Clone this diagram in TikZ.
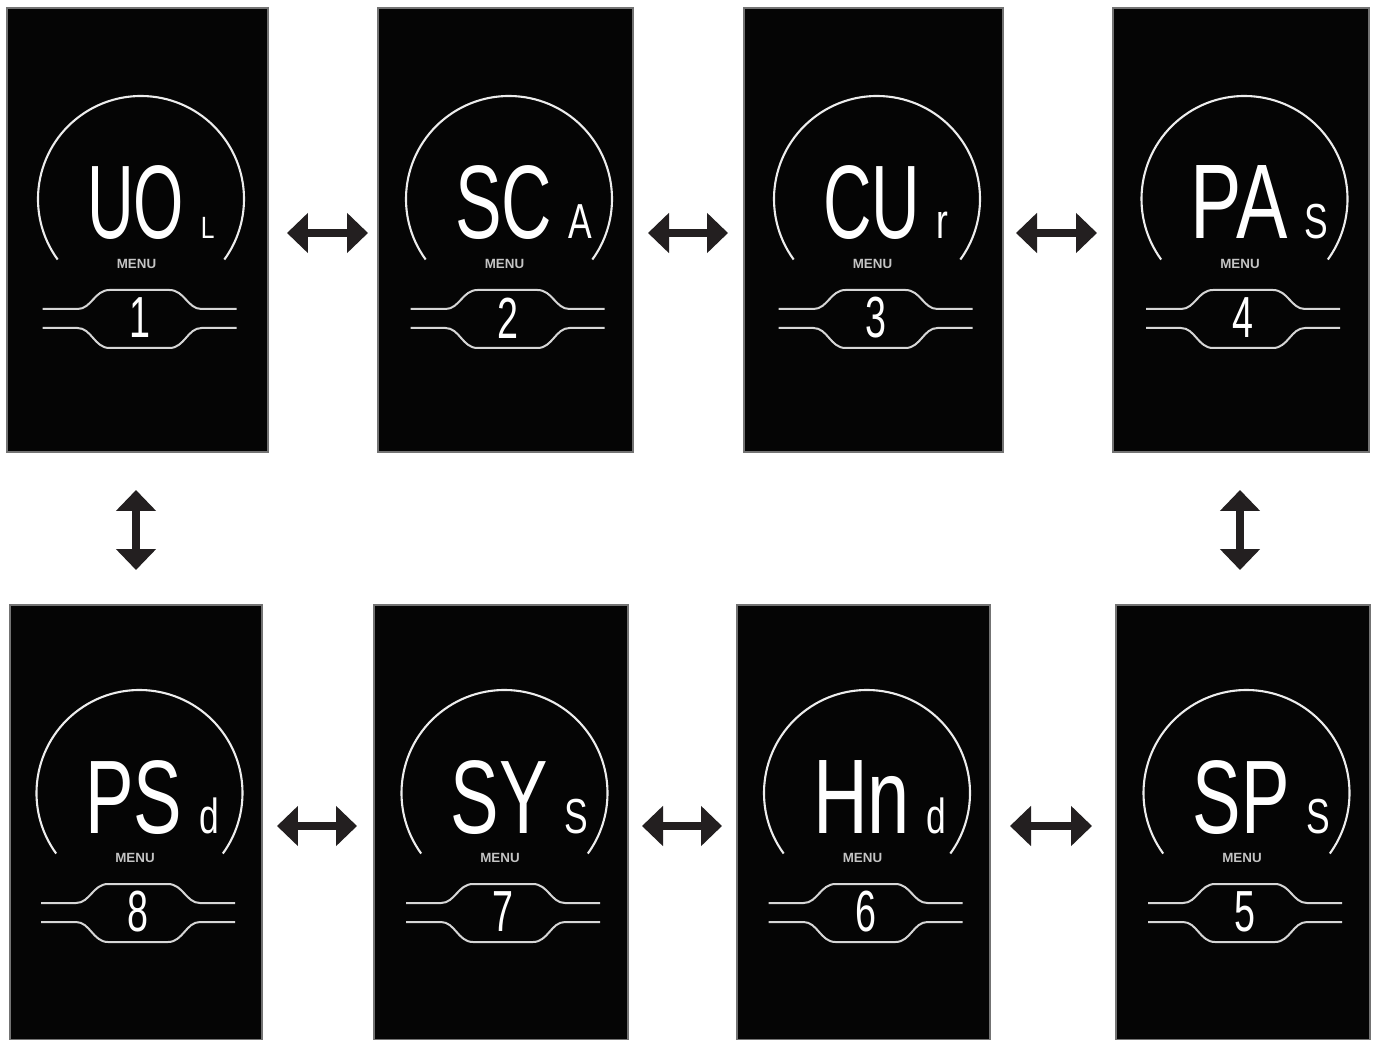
\documentclass[tikz,border=0pt]{standalone}
\usepackage{fontspec}
\setmainfont{Liberation Sans}
\usetikzlibrary{arrows.meta}
\definecolor{arrowcol}{HTML}{231F20}
\definecolor{screenbg}{HTML}{050505}
\definecolor{arccol}{HTML}{EDEDED}
\definecolor{lozcol}{HTML}{D6D6D6}
\definecolor{menucol}{HTML}{C4C4C4}
\tikzset{
  screen/.style={rectangle, fill=screenbg, draw=black!55, line width=0.03cm, inner sep=0pt, outer sep=0pt},
  arcline/.style={draw=arccol, line width=0.042cm},
  lozline/.style={draw=lozcol, line width=0.04cm},
  bigtxt/.style={text=white, inner sep=0pt},
  smalltxt/.style={text=white, inner sep=0pt},
  numtxt/.style={text=white, inner sep=0pt},
  menutxt/.style={text=menucol, inner sep=0pt, font=\bfseries\fontsize{7.6pt}{8pt}\selectfont},
  dbl/.style={draw=arrowcol, line width=0.16cm,
    {Triangle[width=0.78cm,length=0.42cm]}-{Triangle[width=0.78cm,length=0.42cm]}}
}
\newcommand\bigseg[1]{\resizebox{1.94cm}{1.46cm}{\fontsize{40pt}{40pt}\selectfont #1}}
\newcommand\smallseg[1]{\scalebox{0.72}[1]{\fontsize{28pt}{28pt}\selectfont #1}}
\newcommand\tinyseg[1]{\scalebox{0.8}[1]{\fontsize{17.5pt}{18pt}\selectfont #1}}
\newcommand\numseg[1]{\scalebox{0.65}[1]{\fontsize{33pt}{33pt}\selectfont #1}}
% #1 name, #2 x0, #3 y0, #4 x1, #5 y1, #6 big text, #7 small text, #8 number, #9 vertical offset of the contents
\newcommand\lcd[9]{%
  \node[screen, anchor=north west, minimum width={(#4-#2)*0.02cm}, minimum height={(#5-#3)*0.02cm}] (#1) at (#2,#3) {};
  \begin{scope}[shift={(#1.north)}, yshift={-(#9)*0.02cm}]
    \draw[arcline] (3.5,191) ++(144:103) arc[start angle=144, end angle=396, radius=103];
    \node[bigtxt, anchor=base] (#1big) at (-2,231) {\bigseg{#6}};
    \node[smalltxt, anchor=base west] (#1small) at (63,231) {#7};
    \node[menutxt] (#1menu) at (-1,256) {MENU};
    \draw[lozline] (-95,301) -- (-60,301) .. controls (-46,301) and (-43,282) .. (-28,282) -- (32,282) .. controls (47,282) and (50,301) .. (64,301) -- (99,301);
    \draw[lozline] (-95,320) -- (-60,320) .. controls (-46,320) and (-43,340) .. (-28,340) -- (32,340) .. controls (47,340) and (50,320) .. (64,320) -- (99,320);
    \node[numtxt] (#1num) at (2,310) {\numseg{#8}};
  \end{scope}}
\begin{document}
\begin{tikzpicture}[x=0.02cm, y=-0.02cm]
  \useasboundingbox[fill=white] (0,0) rectangle (1376,1040);
  % top row
  \lcd{s1}{7}{8}{268}{452}{UO}{\tinyseg{L}}{1}{0}
  \lcd{s2}{378}{8}{633}{452}{SC}{\smallseg{A}}{2}{0}
  \lcd{s3}{744}{8}{1003}{452}{CU}{\smallseg{r}}{3}{0}
  \lcd{s4}{1113}{8}{1369}{452}{PA}{\smallseg{S}}{4}{0}
  % bottom row
  \lcd{s8}{10}{605}{262}{1040}{PS}{\smallseg{d}}{8}{-3}
  \lcd{s7}{374}{605}{628}{1040}{SY}{\smallseg{S}}{7}{-3}
  \lcd{s6}{737}{605}{990}{1040}{Hn}{\smallseg{d}}{6}{-3}
  \lcd{s5}{1116}{605}{1370}{1040}{SP}{\smallseg{S}}{5}{-3}
  % connectors
  \draw[dbl] ([shift={(19,3)}]s1.east) -- ([shift={(-10,3)}]s2.west);
  \draw[dbl] ([shift={(15,3)}]s2.east) -- ([shift={(-16,3)}]s3.west);
  \draw[dbl] ([shift={(13,3)}]s3.east) -- ([shift={(-16,3)}]s4.west);
  \draw[dbl] ([shift={(15,3.5)}]s8.east) -- ([shift={(-17,3.5)}]s7.west);
  \draw[dbl] ([shift={(14,3.5)}]s7.east) -- ([shift={(-15,3.5)}]s6.west);
  \draw[dbl] ([shift={(20,3.5)}]s6.east) -- ([shift={(-24,3.5)}]s5.west);
  \draw[dbl] ([shift={(-1.5,38)}]s1.south) -- ([shift={(0,-35)}]s8.north);
  \draw[dbl] ([shift={(-1,38)}]s4.south) -- ([shift={(-3,-35)}]s5.north);
\end{tikzpicture}
\end{document}
